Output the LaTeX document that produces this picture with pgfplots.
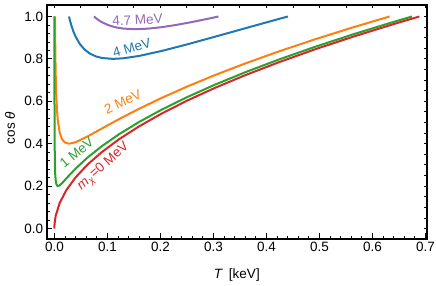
\documentclass[border=0pt]{standalone}
\usepackage{fontspec}
\setmainfont{Liberation Sans}
\usepackage{pgfplots}
\pgfplotsset{compat=1.18}
\definecolor{tblue}{HTML}{1F77B4}
\definecolor{torange}{HTML}{FF7F0E}
\definecolor{tgreen}{HTML}{2CA02C}
\definecolor{tred}{HTML}{D62728}
\definecolor{tpurple}{HTML}{9467BD}
\newcommand{\lfont}{\fontsize{13.5}{15}\selectfont}
\begin{document}
\begin{tikzpicture}
\pgfplotsset{
  common/.style={
    scale only axis, width=380.3pt, height=234pt,
    xmin=-0.0145, xmax=0.703, ymin=-0.0495, ymax=1.0542,
    xtick={0,0.1,0.2,0.3,0.4,0.5,0.6,0.7},
    ytick={0,0.2,0.4,0.6,0.8,1.0},
    tick align=inside,
    every tick/.style={black, line width=0.8pt},
    axis line style={line width=1.6pt},
  }
}
\begin{axis}[common,
    minor x tick num=4, minor y tick num=4,
    xtick pos=bottom, ytick pos=left,
    major tick length=5.5pt, minor tick length=3pt,
    /pgf/number format/assume math mode=true,
    xticklabel style={/pgf/number format/fixed, /pgf/number format/fixed zerofill, /pgf/number format/precision=1},
    yticklabel style={/pgf/number format/fixed, /pgf/number format/fixed zerofill, /pgf/number format/precision=1},
    tick label style={font=\lfont},
    xlabel={\textit{T}\, [keV]},
    ylabel={cos \textit{θ}},
    label style={font=\lfont},
    xlabel style={at={(axis description cs:0.5,-0.154)}, anchor=center},
    ylabel style={at={(axis description cs:-0.0965,0.474)}, anchor=center},
  ]
\coordinate (sw) at (rel axis cs:0,0);
\coordinate (ne) at (rel axis cs:1,1);
\addplot[tpurple, line width=2pt] coordinates {
(0.07474,1.0000) (0.0784,0.9921) (0.0841,0.9816) (0.09,0.9726) (0.1024,0.9585)
(0.1156,0.9489) (0.1296,0.9431) (0.1521,0.9400) (0.1764,0.9426) (0.2025,0.9497)
(0.2304,0.9604) (0.2601,0.9741) (0.2916,0.9902) (0.3096,1.0000)};
\addplot[tblue, line width=2pt] coordinates {
(0.02756,1.0000) (0.0289,0.9860) (0.0324,0.9547) (0.0361,0.9279) (0.04,0.9050)
(0.0484,0.8688) (0.0576,0.8426) (0.0676,0.8241) (0.0784,0.8117) (0.09,0.8042)
(0.1102,0.8001) (0.1296,0.8027) (0.16,0.8140) (0.2025,0.8374) (0.25,0.8682)
(0.3025,0.9043) (0.36,0.9444) (0.3969,0.9700) (0.4406,1.0000)};
\addplot[torange, line width=2pt] coordinates {
(0.0012,1.0000) (0.001296,0.9656) (0.0016,0.8782) (0.002025,0.7920) (0.0025,0.7243)
(0.0036,0.6256) (0.0049,0.5586) (0.0064,0.5114) (0.01,0.4525) (0.0144,0.4213)
(0.0196,0.4059) (0.02756,0.4000) (0.04,0.4070) (0.0625,0.4341) (0.09,0.4722)
(0.1225,0.5166) (0.16,0.5650) (0.2025,0.6161) (0.25,0.6690) (0.3025,0.7232)
(0.36,0.7784) (0.4225,0.8344) (0.49,0.8910) (0.5625,0.9481) (0.6323,1.0000)};
\addplot[tgreen, line width=2pt] coordinates {
(0.0000703,1.000) (0.0001,0.8421) (0.000144,0.7061) (0.000225,0.5714) (0.0004,0.4391)
(0.0009,0.3128) (0.0016,0.2557) (0.0025,0.2263) (0.0036,0.2106) (0.0049,0.2029)
(0.006889,0.2000) (0.01,0.2035) (0.0144,0.2138) (0.0225,0.2361) (0.04,0.2825)
(0.0625,0.3345) (0.09,0.3892) (0.1225,0.4455) (0.16,0.5028) (0.2025,0.5607)
(0.25,0.6192) (0.3025,0.6779) (0.36,0.7369) (0.4225,0.7961) (0.49,0.8554)
(0.5625,0.9149) (0.64,0.9745) (0.6747,1.0000)};
\addplot[tred, line width=2pt] coordinates {
(0,0) (0.0001,0.0121) (0.0004,0.0241) (0.0025,0.0603) (0.01,0.1205)
(0.0225,0.1808) (0.04,0.2410) (0.0625,0.3013) (0.09,0.3615) (0.1225,0.4218)
(0.16,0.4820) (0.2025,0.5423) (0.25,0.6026) (0.3025,0.6628) (0.36,0.7231)
(0.4225,0.7833) (0.49,0.8436) (0.5625,0.9038) (0.64,0.9641) (0.6886,1.0000)};
\node[text=tpurple, font=\lfont, rotate=3] at (axis cs:0.157,0.983) {4.7 MeV};
\node[text=tblue, font=\lfont, rotate=16] at (axis cs:0.146,0.851) {4 MeV};
\node[text=torange, font=\lfont, rotate=24] at (axis cs:0.129,0.597) {2 MeV};
\node[text=tgreen, font=\lfont, rotate=39] at (axis cs:0.042,0.356) {1 MeV};
\node[text=tred, font=\lfont, rotate=42] at (axis cs:0.093,0.290) {\textit{m}\textsubscript{\textit{χ}}=0 MeV};
\end{axis}
\begin{axis}[common,
    minor x tick num=1, minor y tick num=3,
    xtick pos=top, ytick pos=right,
    major tick length=3pt, minor tick length=3pt,
    xticklabels={}, yticklabels={},
  ]
\end{axis}
\pgfresetboundingbox
\path ([xshift=-46.7pt,yshift=-47pt]sw) rectangle ([xshift=9pt,yshift=5pt]ne);
\end{tikzpicture}
\end{document}
